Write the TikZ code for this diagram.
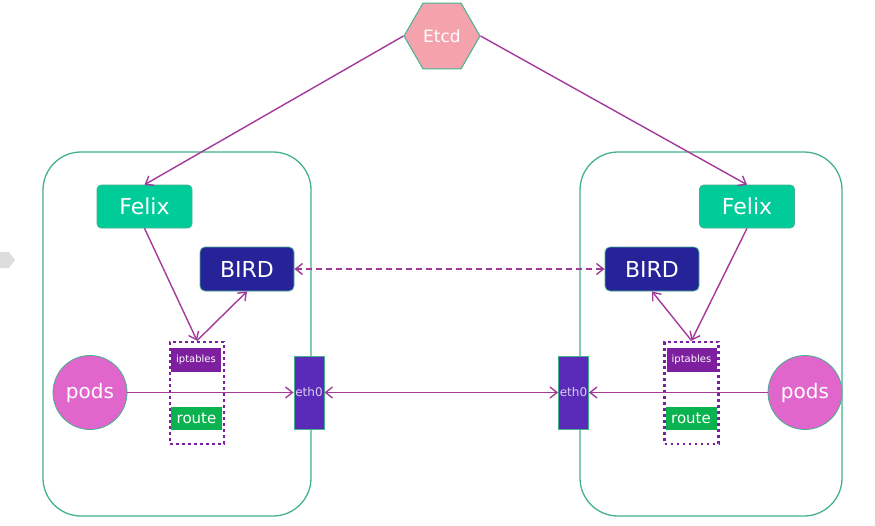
\documentclass[tikz,border=0pt]{standalone}
\usepackage{fontspec}
\setmainfont{DejaVu Sans}
\usetikzlibrary{arrows.meta,shapes.geometric}
\definecolor{tealb}{HTML}{45B08E}
\definecolor{felixc}{HTML}{00CC99}
\definecolor{birdc}{HTML}{262398}
\definecolor{etcdc}{HTML}{F4A3AC}
\definecolor{arrc}{HTML}{A2399B}
\definecolor{iptc}{HTML}{7D1F9E}
\definecolor{dotc}{HTML}{7B1FA2}
\definecolor{routec}{HTML}{0AB350}
\definecolor{ethc}{HTML}{5A2AB8}
\definecolor{ethtxt}{HTML}{DCCCF2}
\definecolor{podc}{HTML}{E066CC}
\definecolor{tagc}{HTML}{DDDDDD}
\tikzset{
  container/.style={draw=tealb,line width=1.3pt,rounded corners=38pt},
  felixbox/.style={fill=felixc,draw=tealb,line width=0.6pt,rounded corners=4pt,minimum width=95pt,minimum height=43pt,inner sep=0pt,text=white,font=\fontsize{22}{24}\selectfont},
  birdbox/.style={fill=birdc,draw=tealb,line width=0.8pt,rounded corners=5pt,minimum width=94pt,minimum height=44pt,inner sep=0pt,text=white,font=\fontsize{22}{24}\selectfont},
  iptbox/.style={fill=iptc,minimum width=50pt,minimum height=24pt,inner sep=0pt,text=white,font=\fontsize{10}{12}\selectfont},
  routebox/.style={fill=routec,minimum width=51pt,minimum height=23pt,inner sep=0pt,text=white,font=\fontsize{15}{17}\selectfont},
  dotbox/.style={draw=dotc,line width=2.8pt,dash pattern=on 2.8pt off 3.2pt,minimum width=54pt,minimum height=102pt,inner sep=0pt},
  ethbox/.style={fill=ethc,draw=tealb,line width=0.8pt,minimum width=30pt,minimum height=73pt,inner sep=0pt,text=ethtxt,font=\fontsize{12}{14}\selectfont},
  podcirc/.style={circle,fill=podc,draw=tealb,line width=0.8pt,minimum size=74pt,inner sep=0pt,text=white,font=\fontsize{20}{22}\selectfont},
  etcdhex/.style={regular polygon,regular polygon sides=6,fill=etcdc,draw=tealb,line width=1pt,minimum size=76pt,inner sep=0pt,text=white,font=\fontsize{17}{19}\selectfont},
  conn/.style={draw=arrc,line width=1.4pt,-{Straight Barb[length=7pt,width=11pt,line width=1.4pt]}},
  biconn/.style={draw=arrc,line width=1.4pt,{Straight Barb[length=7pt,width=11pt,line width=1.4pt]}-{Straight Barb[length=7pt,width=11pt,line width=1.4pt]}},
  longdash/.style={dash pattern=on 6pt off 4pt}
}
\begin{document}
\begin{tikzpicture}[x=1pt,y=-1pt]
\useasboundingbox (0,0) rectangle (875,525);
% gray tag at left edge
\fill[tagc] (0,252) -- (9,252) -- (15,260) -- (9,268) -- (0,268) -- cycle;
% containers
\draw[container] (43,152) rectangle (311,516);
\draw[container] (580,152) rectangle (842,516);
% nodes
\node[etcdhex] (etcd) at (442,36) {Etcd};
\node[felixbox] (fl) at (144.5,206.5) {Felix};
\node[felixbox] (fr) at (747,206.5) {Felix};
\node[birdbox] (bl) at (247,269) {BIRD};
\node[birdbox] (br) at (652,269) {BIRD};
\node[dotbox] (ipbl) at (197,393) {};
\node[dotbox] (ipbr) at (691.5,393) {};
\node[iptbox] (iptl) at (196,360) {iptables};
\node[iptbox] (iptr) at (691.5,360) {iptables};
\node[routebox] (rtl) at (196.5,418.5) {route};
\node[routebox] (rtr) at (691,418.5) {route};
\node[podcirc] (pl) at (90,392.5) {pods};
\node[podcirc] (pr) at (805,392.5) {pods};
\node[ethbox] (el) at (309,392.5) {eth0};
\node[ethbox] (er) at (573.5,392.5) {eth0};
% connectors
\draw[conn] (etcd.west) -- (fl.north);
\draw[conn] (etcd.east) -- (fr.north);
\draw[conn] (fl.south) -- (ipbl.north);
\draw[conn] (ipbl.north) -- (bl.south);
\draw[conn] (fr.south) -- (ipbr.north);
\draw[conn] (ipbr.north) -- (br.south);
\draw[biconn,longdash] (bl.east) -- (br.west);
\draw[conn] (pl.east) -- (el.west);
\draw[conn] (pr.west) -- (er.east);
\draw[biconn] (el.east) -- (er.west);
\end{tikzpicture}
\end{document}
